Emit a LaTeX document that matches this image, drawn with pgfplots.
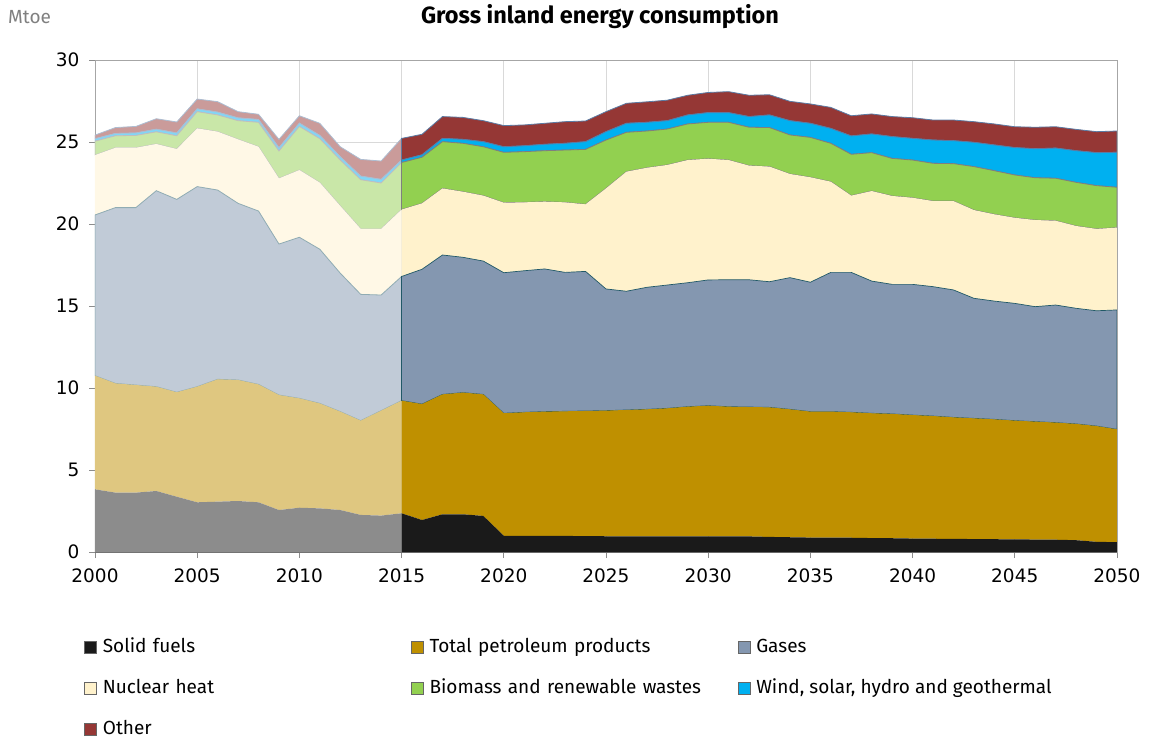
\documentclass[border=0pt]{standalone}
\usepackage{pgfplots}
\pgfplotsset{compat=1.18}
\usepackage{pgfplotstable}
\usepackage{fontspec}
\setmainfont{Fira Sans}
\newfontfamily\tickfont{DejaVu Sans}

\definecolor{solidc}{HTML}{1A1A1A}
\definecolor{petc}{HTML}{BF9000}
\definecolor{gasc}{HTML}{8497B0}
\definecolor{nucc}{HTML}{FFF2CC}
\definecolor{bioc}{HTML}{92D050}
\definecolor{windc}{HTML}{00B0F0}
\definecolor{othc}{HTML}{953735}
\definecolor{gasline}{HTML}{215967}
\definecolor{bioline}{HTML}{7F7F7F}
\definecolor{blueline}{HTML}{5B7BA3}

% Mtoe per fuel, historical years
\pgfplotstableread{
year solid pet  gas   nuc  bio  wind oth
2000 3.82 6.93 9.80  3.65 0.85 0.15 0.22
2001 3.62 6.66 10.72 3.65 0.73 0.14 0.36
2002 3.62 6.56 10.82 3.65 0.75 0.15 0.40
2003 3.72 6.36 11.95 2.85 0.74 0.16 0.64
2004 3.37 6.37 11.76 3.07 0.81 0.17 0.67
2005 3.03 7.05 12.20 3.55 1.02 0.17 0.60
2006 3.07 7.46 11.54 3.56 1.02 0.17 0.64
2007 3.11 7.38 10.77 3.90 1.14 0.17 0.38
2008 3.03 7.19 10.57 3.92 1.49 0.17 0.32
2009 2.56 7.01 9.21  4.00 1.67 0.20 0.51
2010 2.70 6.67 9.82  4.10 2.66 0.20 0.45
2011 2.66 6.40 9.40  4.06 2.68 0.20 0.74
2012 2.56 6.00 8.44  4.10 2.80 0.20 0.61
2013 2.26 5.75 7.70  3.99 3.00 0.22 1.02
2014 2.22 6.40 7.05  4.03 2.80 0.22 1.12
2015 2.36 6.87 7.57  4.08 2.87 0.15 1.32
}\hist

% projection
\pgfplotstableread{
year solid pet  gas   nuc  bio  wind oth
2015 2.36 6.87 7.57  4.08 2.87 0.15 1.32
2016 1.95 7.07 8.22  4.02 2.81 0.15 1.25
2017 2.30 7.31 8.50  4.06 2.85 0.20 1.33
2018 2.30 7.42 8.25  4.00 2.95 0.24 1.34
2019 2.20 7.41 8.13  3.99 2.98 0.31 1.28
2020 0.99 7.47 8.57  4.27 3.07 0.34 1.29
2021 0.98 7.54 8.63  4.17 3.09 0.36 1.27
2022 0.98 7.58 8.70  4.10 3.11 0.39 1.28
2023 0.98 7.60 8.47  4.27 3.19 0.41 1.32
2024 0.97 7.63 8.51  4.09 3.35 0.47 1.26
2025 0.96 7.66 7.42  6.13 2.95 0.51 1.22
2026 0.96 7.70 7.24  7.29 2.40 0.55 1.22
2027 0.96 7.74 7.44  7.29 2.24 0.53 1.25
2028 0.96 7.80 7.52  7.32 2.19 0.51 1.25
2029 0.96 7.90 7.56  7.48 2.20 0.55 1.20
2030 0.96 7.96 7.67  7.39 2.22 0.59 1.23
2031 0.96 7.90 7.74  7.30 2.30 0.59 1.28
2032 0.95 7.89 7.76  6.96 2.34 0.65 1.30
2033 0.92 7.90 7.66  7.02 2.38 0.77 1.23
2034 0.90 7.80 8.03  6.32 2.38 0.87 1.18
2035 0.88 7.68 7.89  6.40 2.43 0.86 1.18
2036 0.88 7.68 8.49  5.53 2.34 0.91 1.28
2037 0.87 7.65 8.53  4.68 2.52 1.12 1.23
2038 0.85 7.61 8.06  5.49 2.34 1.14 1.22
2039 0.84 7.58 7.90  5.39 2.29 1.33 1.22
2040 0.82 7.53 7.97  5.28 2.30 1.32 1.26
2041 0.81 7.48 7.89  5.22 2.30 1.42 1.22
2042 0.80 7.41 7.77  5.42 2.28 1.40 1.26
2043 0.79 7.36 7.32  5.38 2.65 1.48 1.26
2044 0.78 7.31 7.21  5.29 2.66 1.57 1.28
2045 0.77 7.24 7.15  5.22 2.61 1.67 1.27
2046 0.76 7.19 7.01  5.28 2.58 1.77 1.31
2047 0.75 7.14 7.17  5.14 2.59 1.84 1.30
2048 0.72 7.09 7.05  5.02 2.66 1.93 1.30
2049 0.62 7.06 7.03  4.99 2.64 2.01 1.28
2050 0.60 6.88 7.28  5.02 2.46 2.13 1.30
}\proj

\pgfplotsset{
  frame/.style={
    at={(95pt,-552pt)}, anchor=south west,
    scale only axis, width=1022pt, height=492pt,
    xmin=2000, xmax=2050, ymin=0, ymax=30,
    stack plots=y, area style, no markers, axis on top=false,
  },
}

\begin{document}
\begin{tikzpicture}
\useasboundingbox (0,0) rectangle (1149pt,-742pt);
% axis, grid and the faded historical part
\begin{axis}[frame,
  xtick={2000,2005,...,2050}, ytick={0,5,...,30},
  xtick pos=left, ytick pos=left,
  grid=major, major grid style={draw=black!15, line width=0.6pt},
  axis line style={draw=black!35, line width=0.8pt},
  tick style={draw=black!45, line width=0.8pt},
  tick align=outside, major tick length=6pt,
  tick label style={font=\tickfont\fontsize{18.5}{18.5}\selectfont},
  yticklabel style={xshift=-6pt},
  xticklabel style={yshift=-7pt},
  /pgf/number format/assume math mode=true,
  /pgf/number format/1000 sep={},
]
\addplot[fill=solidc!50!white, draw=none] table[x=year, y=solid] {\hist} \closedcycle;
\addplot[fill=petc!50!white, draw=none] table[x=year, y=pet] {\hist} \closedcycle;
\addplot[fill=gasc!50!white, draw=gasline!50!white, line width=0.8pt] table[x=year, y=gas] {\hist} \closedcycle;
\addplot[fill=nucc!50!white, draw=none] table[x=year, y=nuc] {\hist} \closedcycle;
\addplot[fill=bioc!50!white, draw=bioline!50!white, line width=0.8pt] table[x=year, y=bio] {\hist} \closedcycle;
\addplot[fill=windc!50!white, draw=blueline!50!white, line width=0.8pt] table[x=year, y=wind] {\hist} \closedcycle;
\addplot[fill=othc!50!white, draw=blueline!50!white, line width=0.8pt] table[x=year, y=oth] {\hist} \closedcycle;
\end{axis}
% projection and legend
\begin{axis}[frame, hide axis,
  legend image code/.code={\draw[#1, draw=black!60, line width=0.7pt] (0pt,-6pt) rectangle (12pt,6pt);},
  legend columns=3, legend cell align=left,
  legend style={at={(-0.0108,-0.177)}, anchor=north west, draw=none, fill=none,
    inner sep=0pt, font=\fontsize{19}{19}\selectfont, row sep=24.5pt,
    nodes={inner sep=0pt, text height=13pt, text depth=3.5pt},
    /tikz/every odd column/.append style={column sep=6pt},
    /tikz/every even column/.append style={column sep=10pt},
    /tikz/column 2/.style={nodes={text width=298pt}},
    /tikz/column 4/.style={nodes={text width=298pt}}},
]
\addplot[fill=solidc, draw=none] table[x=year, y=solid] {\proj} \closedcycle;
\addplot[fill=petc, draw=none] table[x=year, y=pet] {\proj} \closedcycle;
\addplot[fill=gasc, draw=gasline, line width=0.7pt] table[x=year, y=gas] {\proj} \closedcycle;
\addplot[fill=nucc, draw=none] table[x=year, y=nuc] {\proj} \closedcycle;
\addplot[fill=bioc, draw=bioline, line width=0.8pt] table[x=year, y=bio] {\proj} \closedcycle;
\addplot[fill=windc, draw=blueline, line width=0.8pt] table[x=year, y=wind] {\proj} \closedcycle;
\addplot[fill=othc, draw=blueline, line width=0.8pt] table[x=year, y=oth] {\proj} \closedcycle;
\legend{Solid fuels, Total petroleum products, Gases, Nuclear heat,
  Biomass and renewable wastes, {Wind, solar, hydro and geothermal}, Other}
\draw[black!55, line width=0.8pt] (axis cs:2000,0) -- (axis cs:2050,0);
\draw[black!35, line width=0.8pt] (axis cs:2050,0) -- (axis cs:2050,30);
\end{axis}
\node[font=\bfseries\fontsize{23.5}{23.5}\selectfont] at (600pt,-17pt) {Gross inland energy consumption};
\node[anchor=west, text=black!50, font=\fontsize{19}{19}\selectfont, inner sep=0pt] at (8pt,-17pt) {Mtoe};
\end{tikzpicture}
\end{document}
